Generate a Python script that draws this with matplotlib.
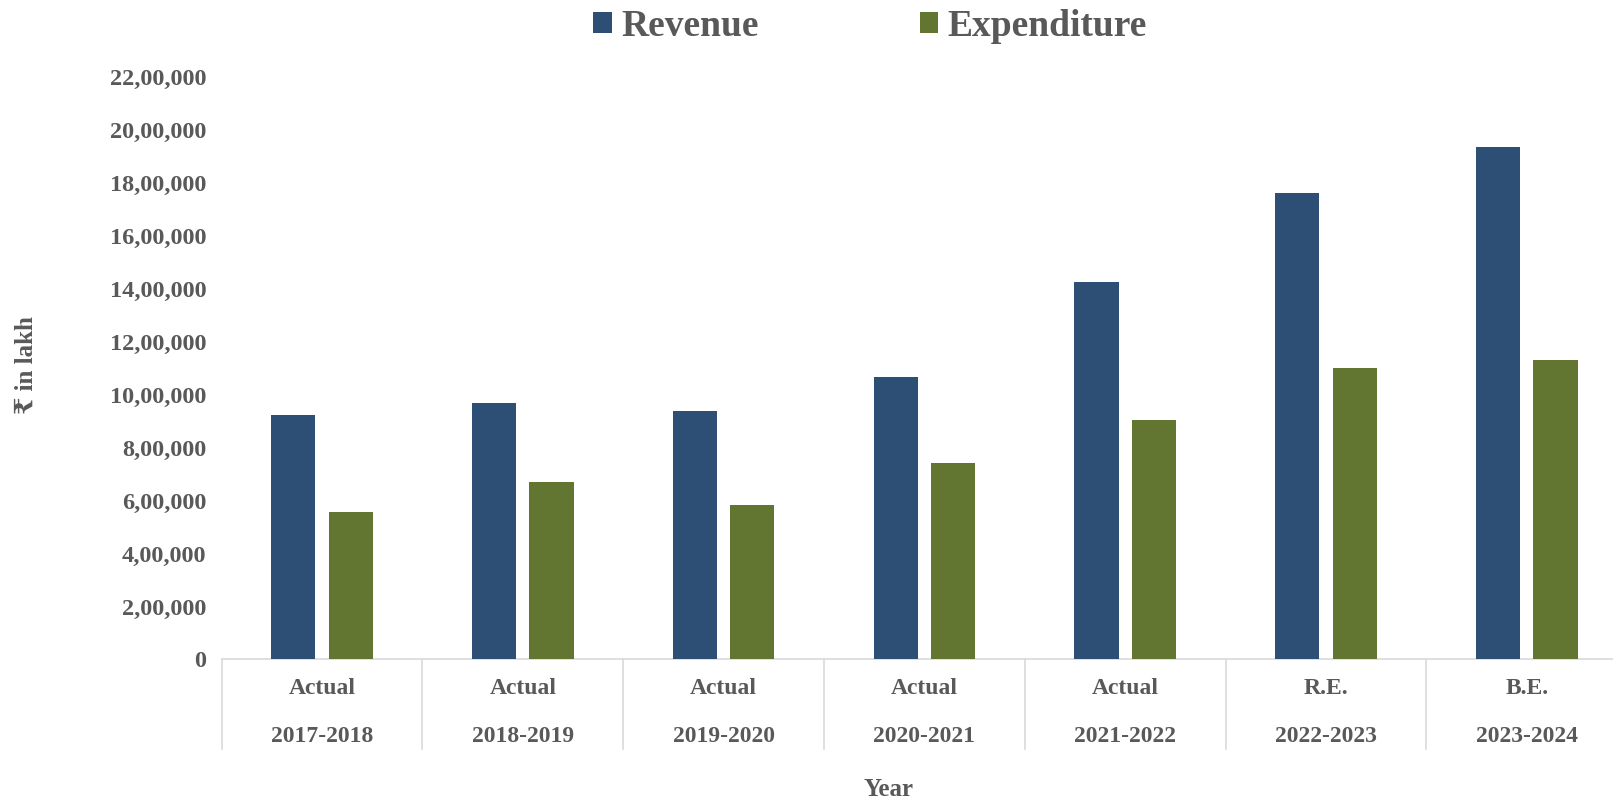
import matplotlib
matplotlib.use("Agg")
import matplotlib.pyplot as plt
import matplotlib.transforms as mtransforms
from matplotlib.patches import Patch
from matplotlib.ticker import FuncFormatter

# ---- data ----
stages = ["Actual", "Actual", "Actual", "Actual", "Actual", "R.E.", "B.E."]
years = ["2017-2018", "2018-2019", "2019-2020", "2020-2021", "2021-2022", "2022-2023", "2023-2024"]
revenue = [925000, 969000, 940000, 1067000, 1425000, 1762000, 1937000]
expenditure = [557000, 669000, 585000, 741000, 904000, 1100000, 1132000]
y_ticks = [0, 200000, 400000, 600000, 800000, 1000000, 1200000, 1400000,
           1600000, 1800000, 2000000, 2200000]

FONT = ["Liberation Serif", "DejaVu Serif", "DejaVu Sans"]
plt.rcParams["font.family"] = FONT
plt.rcParams["font.weight"] = "bold"
TXT = "#595959"
C_REV = "#2D4F76"
C_EXP = "#627531"
GRID = "#D9D9D9"

def indian(v, pos=None):
    v = int(round(v))
    if v == 0:
        return "0"
    s = str(v)
    last3 = s[-3:]
    rest = s[:-3]
    parts = []
    while len(rest) > 2:
        parts.insert(0, rest[-2:])
        rest = rest[:-2]
    if rest:
        parts.insert(0, rest)
    return ",".join(parts + [last3])

W, H = 1613, 806
fig = plt.figure(figsize=(W / 100, H / 100), dpi=100)
left_px, bottom_px, top_px = 221.6, 659.4, 77.2
cat_w = 200.8
ax = fig.add_axes([left_px / W, (H - bottom_px) / H, 1 - left_px / W, (bottom_px - top_px) / H])

x = list(range(len(years)))
bw = 0.22
off = 0.143
ax.bar([i - off for i in x], revenue, width=bw, color=C_REV, label="Revenue", zorder=3)
ax.bar([i + off for i in x], expenditure, width=bw, color=C_EXP, label="Expenditure", zorder=3)

ax.set_xlim(-0.5, -0.5 + (W - left_px) / cat_w)
ax.set_ylim(0, 2200000)
ax.set_yticks(y_ticks)
ax.yaxis.set_major_formatter(FuncFormatter(indian))
ax.tick_params(axis="y", length=0, pad=11, labelsize=17.5, labelcolor=TXT)
ax.set_xticks([])
for sp in ["top", "right", "left"]:
    ax.spines[sp].set_visible(False)
ax.spines["bottom"].set_color(GRID)
ax.spines["bottom"].set_linewidth(1.2)

trans = mtransforms.blended_transform_factory(ax.transData, ax.transAxes)
ah = bottom_px - top_px
y_div = -(749 - bottom_px) / ah
y_stage = -(688 - bottom_px) / ah
y_year = -(736.5 - bottom_px) / ah
for i in range(len(years) + 1):
    ax.plot([i - 0.5, i - 0.5], [0, y_div], transform=trans, color=GRID,
            lw=1.2, clip_on=False)
for i, (st, yr) in enumerate(zip(stages, years)):
    ax.text(i, y_stage, st, transform=trans, ha="center", va="center",
            fontsize=17, color=TXT, fontweight="bold")
    ax.text(i, y_year, yr, transform=trans, ha="center", va="center",
            fontsize=17, color=TXT, fontweight="bold")

fig.text(888 / W, 1 - 790 / H, "Year", ha="center", va="center",
         fontsize=18, color=TXT, fontweight="bold")
fig.text(26 / W, 1 - 365 / H, "₹ in lakh", ha="center", va="center",
         rotation=90, fontsize=18, color=TXT, fontweight="bold")

handles = [Patch(facecolor=C_REV, label="Revenue"),
           Patch(facecolor=C_EXP, label="Expenditure")]
leg = fig.legend(handles=handles, loc="center", bbox_to_anchor=(870 / W, 1 - 26 / H),
                 ncol=2, frameon=False, fontsize=27, handlelength=0.5,
                 handleheight=0.5, handletextpad=0.25, columnspacing=4.3)
for t in leg.get_texts():
    t.set_color(TXT)
    t.set_fontweight("bold")

fig.savefig("out.png", dpi=100, facecolor="white")
